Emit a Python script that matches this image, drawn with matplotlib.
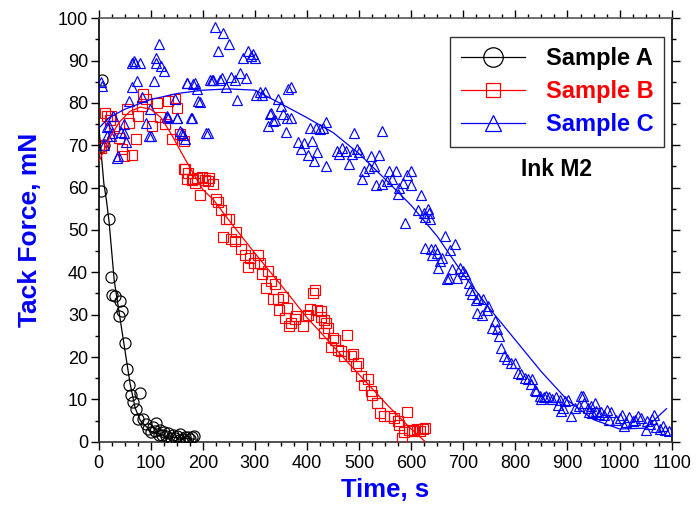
import matplotlib
matplotlib.use("Agg")
import matplotlib.pyplot as plt
from matplotlib.ticker import MultipleLocator

plt.rcParams['font.family'] = ['Liberation Sans', 'DejaVu Sans']

# Sample A (black circles)
a_time = [4, 6, 10, 20, 23, 26, 32, 39, 41, 45, 50, 55, 58, 62, 66, 71, 75, 79, 86, 90,
          95, 100, 104, 108, 111, 115, 118, 122, 126, 130, 134, 138, 142, 146, 150, 154,
          157, 161, 165, 168, 172, 176, 180, 184]
a_force = [59.2, 85.5, 70, 52.6, 39, 34.7, 34.3, 29.6, 33.2, 30.8, 23.3, 17.2, 13.5, 11.1,
           9.3, 7.7, 5.4, 11.5, 5.4, 4.2, 3, 2.2, 3.5, 2.6, 4.4, 1.6, 2.8, 1.5, 2.4, 1.3,
           2, 0.9, 1.6, 0.8, 1.4, 0.4, 1.8, 0.7, 1.2, 0.2, 1, 0.6, 1.1, 1.3]
a_fit_time = [0, 5, 10, 15, 20, 30, 40, 50, 60, 70, 80, 100, 130, 185]
a_fit_force = [75, 68, 61, 57, 52, 38, 30, 22, 14, 8, 5, 2.5, 1.2, 0.6]

# Sample B (red squares)
b_time = [0, 4, 8, 12, 16, 21, 23, 29, 39, 44, 48, 55, 58, 64, 71, 76, 83, 86, 90, 102,
          112, 118, 128, 134, 140, 147, 150, 156, 163, 163, 166, 169, 172, 179, 182, 185,
          189, 195, 198, 204, 210, 211, 220, 225, 230, 234, 239, 245, 250, 255, 261, 263,
          273, 281, 287, 290, 298, 306, 309, 314, 321, 325, 331, 335, 338, 344, 347, 354,
          357, 361, 366, 370, 376, 379, 393, 398, 401, 406, 411, 415, 420, 427, 427, 433,
          433, 436, 440, 446, 449, 454, 459, 465, 471, 476, 484, 488, 494, 497, 503, 510,
          518, 522, 525, 535, 541, 548, 560, 567, 575, 576, 583, 586, 592, 595, 602, 605,
          611, 616, 622, 627]
b_force = [69.5, 69.4, 70, 77.7, 77, 76, 77, 74.5, 71.8, 69, 67.4, 78.5, 75.3, 67.8, 71.4,
           77, 79.3, 82, 80.9, 74.5, 80, 76.6, 75, 80.5, 71.4, 80.9, 78.9, 72.6, 71, 64.3,
           64.5, 62, 63.5, 61.9, 62, 61, 62.3, 58.2, 62.5, 61.8, 61.5, 62.3, 60.8, 57.4,
           56.6, 54.7, 48.4, 52.5, 52.7, 47.8, 47.4, 49.5, 45.5, 44.2, 41.3, 43.4, 42.1, 44,
           42.2, 39.5, 36.3, 40.3, 37.9, 33.7, 37.3, 33.6, 31.1, 34.2, 29.2, 31.5, 27.3, 28,
           29, 29.6, 27.4, 29.6, 30, 31.4, 35, 35.9, 31, 30.8, 29.5, 28.8, 25.7, 28, 26.9,
           22.4, 24.5, 23.9, 21.7, 21.3, 20.3, 25.3, 20.3, 20.8, 17.9, 18.6, 15.6, 13.5,
           14.8, 11.9, 11.1, 9.1, 6.8, 6, 6, 5.6, 4.8, 4, 0.9, 2.4, 6.9, 2.8, 2.8, 2.5, 3,
           2.6, 2.9, 3.2]
b_fit_time = [0, 20, 40, 60, 80, 100, 120, 140, 166, 200, 220, 250, 300, 350, 400, 427,
              480, 520, 557, 600, 627]
b_fit_force = [66, 71.5, 75.5, 78, 79, 78.5, 76.5, 72.5, 66.7, 59.5, 57.2, 52.3, 44.5, 37,
               29.3, 25.7, 18.5, 13.2, 8.3, 3, 0]

# Sample C (blue triangles)
c_time = [4, 6, 10, 16, 16, 20, 23, 25, 28, 36, 37, 42, 48, 48, 53, 58, 64, 64, 67, 70,
          74, 79, 83, 90, 96, 99, 100, 106, 110, 111, 115, 120, 125, 131, 132, 134, 147,
          150, 151, 156, 160, 162, 166, 169, 170, 177, 179, 182, 185, 188, 191, 194, 207,
          209, 214, 217, 219, 223, 230, 233, 236, 239, 245, 250, 255, 261, 266, 271, 277,
          282, 287, 292, 296, 300, 303, 309, 314, 319, 325, 328, 331, 335, 338, 344, 350,
          354, 360, 361, 363, 369, 370, 382, 389, 395, 401, 405, 410, 414, 418, 420, 425,
          431, 436, 436, 458, 462, 468, 474, 481, 486, 490, 496, 500, 506, 509, 519, 522,
          528, 532, 538, 544, 544, 554, 557, 563, 570, 575, 576, 584, 589, 592, 599, 600,
          614, 618, 624, 626, 627, 632, 634, 637, 638, 640, 645, 649, 652, 656, 659, 665,
          668, 672, 675, 678, 684, 688, 694, 700, 703, 710, 713, 716, 725, 726, 729, 735,
          738, 745, 748, 755, 760, 765, 768, 773, 779, 783, 792, 799, 805, 811, 818, 824,
          829, 831, 837, 840, 847, 850, 855, 859, 865, 870, 878, 882, 885, 888, 891, 896,
          901, 906, 915, 923, 925, 929, 932, 939, 941, 945, 947, 952, 955, 960, 965, 970,
          975, 980, 983, 994, 1000, 1005, 1009, 1012, 1018, 1025, 1030, 1035, 1042, 1050,
          1052, 1058, 1062, 1067, 1070, 1077, 1083, 1088, 1095]
c_force = [85, 84, 70, 72.2, 74.4, 74.5, 72.2, 73, 77, 67, 67.5, 73.2, 75, 73, 70.8, 80.5,
           89.5, 83.7, 90, 89.5, 85.2, 89.4, 81.3, 75.3, 72.2, 78.5, 72.3, 85.2, 89.5, 90.5,
           93.9, 88.7, 87.5, 76.6, 77, 76.4, 80.9, 76.5, 76.4, 73.4, 73, 72.5, 71.4, 84.8,
           84.8, 76.4, 76.5, 84.5, 84.8, 83.3, 80.5, 80.2, 73, 72.8, 85.5, 85.5, 85.5, 98,
           92.3, 85.5, 85.8, 96.6, 83.7, 94, 86.2, 85.3, 80.7, 87, 90.7, 85.8, 92.2, 91,
           91.5, 90.5, 81.8, 82.5, 81.8, 82.5, 74.5, 77.3, 77.7, 75.7, 76, 81, 79.3, 77.3,
           73.2, 76.5, 83.2, 76.5, 83.7, 70.8, 69.2, 70.5, 67.6, 74.1, 71, 66.3, 74, 68.5,
           73.8, 74, 65.1, 75.5, 68.7, 68, 69.4, 68.7, 65.5, 68, 73, 69, 68.5, 62, 64, 64.7,
           67.4, 65, 60.5, 67.8, 60.8, 73.4, 61.5, 64, 62, 64, 58.4, 60, 61, 51.7, 63, 60.5,
           64, 54.8, 58.2, 54, 53, 45.8, 55, 54, 52.5, 45.5, 44, 45.5, 44.6, 41, 42.6, 43.4,
           48.6, 38.3, 38.7, 45.2, 40.7, 46.7, 38.7, 41.1, 40.3, 39.5, 37.5, 35.9, 34.8,
           33.5, 30.4, 34, 30, 33.6, 31.2, 32, 26.9, 28.5, 26.5, 25, 22.2, 20.2, 19.6, 18.6,
           18.6, 16.2, 16, 15, 14.7, 13.6, 14.7, 12.3, 12, 10.7, 10.1, 10.5, 10.8, 10.5,
           10.2, 10.6, 8.7, 9.9, 7.2, 8, 9.5, 9.9, 6, 8, 8.4, 10.7, 10.7, 9.1, 8, 7, 8.4,
           6.8, 9.1, 7.2, 6.5, 7, 6.3, 7.5, 5.2, 7, 5.2, 5.5, 6.3, 3.6, 4.6, 5.8, 4.8, 5.2,
           6.1, 5.5, 2.8, 4.9, 4.2, 5.4, 6.3, 3.4, 3, 3.8, 2.8, 2.5]
c_fit_time = [0, 20, 50, 100, 150, 200, 250, 300, 350, 400, 450, 500, 550, 600, 650, 700,
              750, 800, 850, 900, 950, 1000, 1050, 1090]
c_fit_force = [74, 76.5, 78.5, 80.8, 82.2, 83, 83.3, 83, 79.8, 76.5, 73, 68, 62, 55.8,
               48.5, 39.5, 31.5, 24, 16.5, 9.8, 5.2, 3, 3.2, 7.8]

fig = plt.figure(figsize=(6.98, 5.08), dpi=100)
ax = fig.add_axes([0.1413, 0.1305, 0.821, 0.8337])

series = [
    (a_time, a_force, a_fit_time, a_fit_force, 'black', 'o', 8.0, 14.0, 'Sample A'),
    (b_time, b_force, b_fit_time, b_fit_force, 'red', 's', 6.8, 10.0, 'Sample B'),
    (c_time, c_force, c_fit_time, c_fit_force, 'blue', '^', 7.6, 12.0, 'Sample C'),
]
handles = []
for t, f, ft, ff, col, mk, ms, lms, lab in series:
    ax.plot(t, f, linestyle='none', marker=mk, markersize=ms, markerfacecolor='none',
            markeredgecolor=col, markeredgewidth=0.85, zorder=3)
    ax.plot(ft, ff, color=col, linewidth=0.9, zorder=4)
    h, = ax.plot([], [], color=col, linewidth=0.9, marker=mk, markersize=lms,
                 markerfacecolor='none', markeredgecolor=col, markeredgewidth=0.9, label=lab)
    handles.append(h)

ax.set_xlim(0, 1100)
ax.set_ylim(0, 100)
ax.xaxis.set_major_locator(MultipleLocator(100))
ax.xaxis.set_minor_locator(MultipleLocator(25))
ax.yaxis.set_major_locator(MultipleLocator(10))
ax.yaxis.set_minor_locator(MultipleLocator(5))
ax.tick_params(which='both', direction='out', top=True, right=True, width=1.0,
               labelsize=13)
ax.tick_params(axis='x', pad=4)
ax.tick_params(axis='y', pad=2)
ax.tick_params(which='major', length=5.5)
ax.tick_params(which='minor', length=3.2)
for s in ax.spines.values():
    s.set_linewidth(1.2)
ax.spines['top'].set_color('#555555')
ax.spines['bottom'].set_color('#333333')

ax.text(0.5, -0.114, 'Time, s', transform=ax.transAxes, ha='center', va='center',
        fontsize=18.5, fontweight='bold', color='blue')
ax.text(-0.12, 0.5, 'Tack Force, mN', transform=ax.transAxes, ha='center', va='center',
        rotation=90, fontsize=19, fontweight='bold', color='blue')

leg = ax.legend(handles=handles, loc='upper right', bbox_to_anchor=(0.987, 0.956),
                handlelength=2.7, handletextpad=0.9, labelspacing=0.42,
                borderpad=0.45, borderaxespad=0, frameon=True, fancybox=False,
                prop={'weight': 'bold', 'size': 17})
leg.get_frame().set_edgecolor('black')
leg.get_frame().set_linewidth(1.0)
for txt, col in zip(leg.get_texts(), ['black', 'red', 'blue']):
    txt.set_color(col)

ax.text(0.799, 0.642, 'Ink M2', transform=ax.transAxes, ha='center', va='center',
        fontsize=16.5, fontweight='bold', color='black')

fig.savefig('out.png', dpi=100)
